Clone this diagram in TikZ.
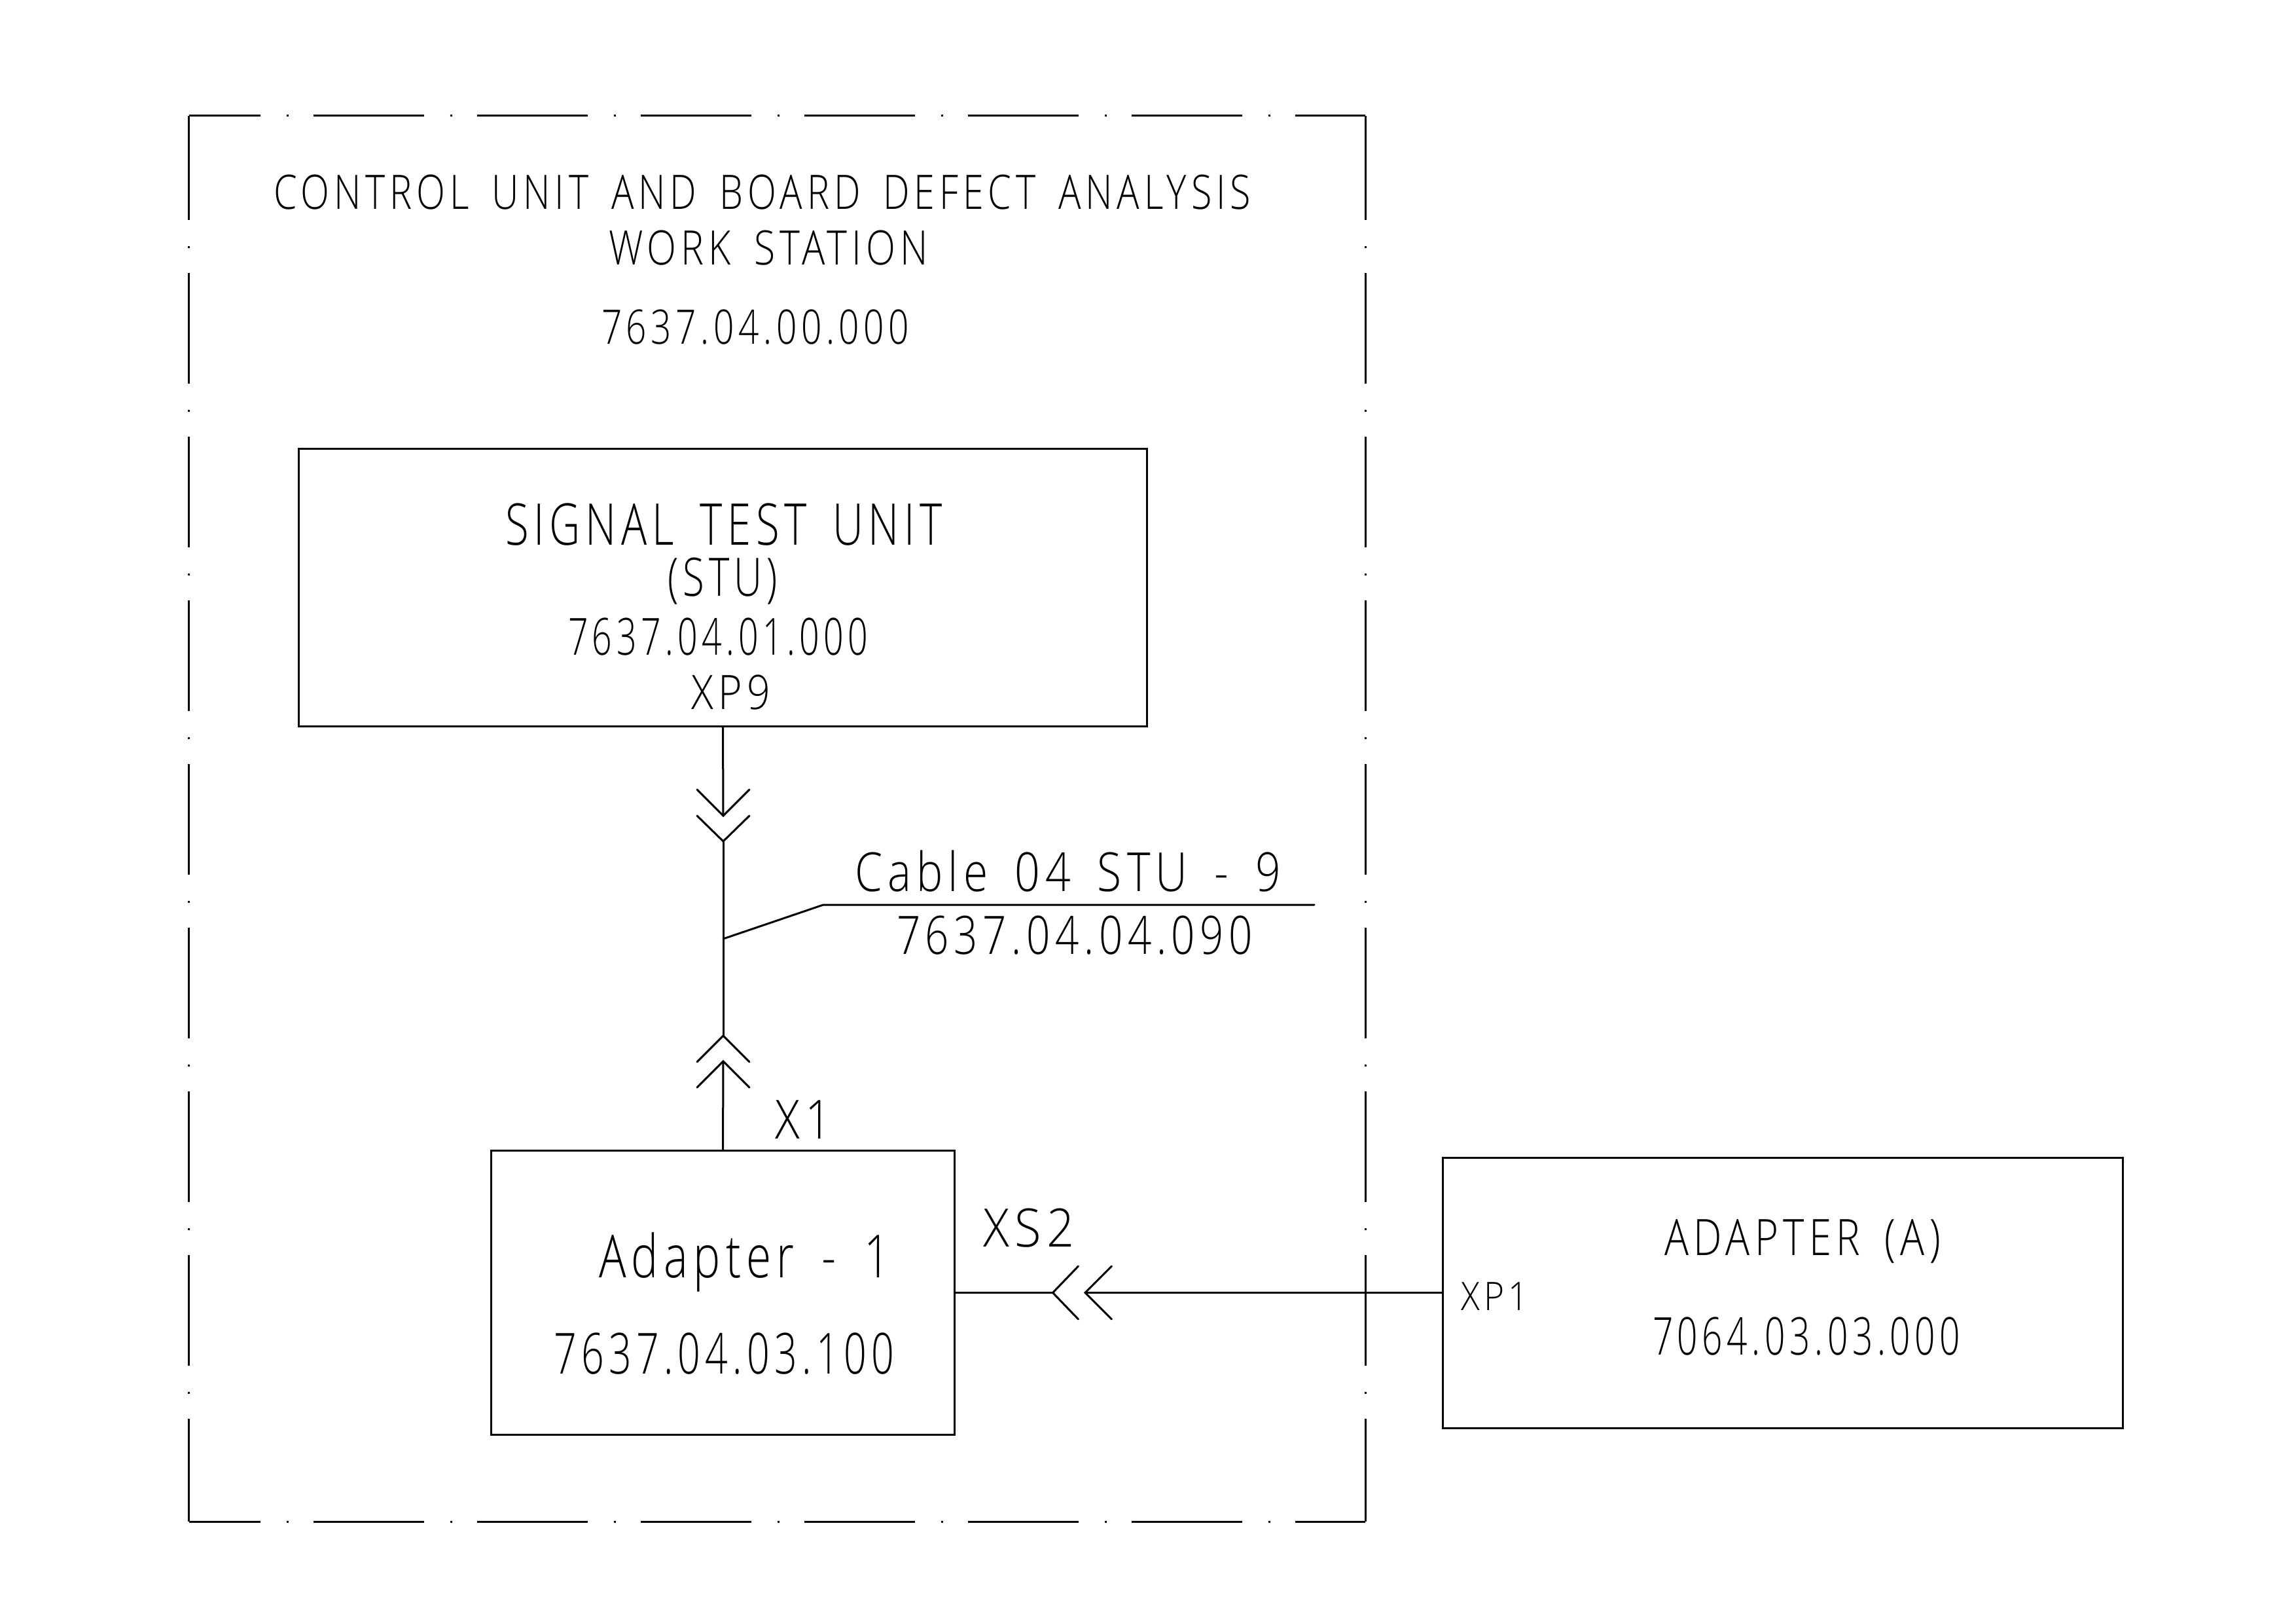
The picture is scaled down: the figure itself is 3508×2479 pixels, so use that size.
\documentclass[tikz,border=0pt]{standalone}
\usepackage{fontspec}
\usepackage{graphicx}
\setmainfont{Open Sans Light}[LetterSpace=12,WordSpace=1.6]
\newdimen\pxunit
\pxunit=0.2mm
\tikzset{
  x=0.2mm, y=-0.2mm,
  wire/.style={line width=0.6mm, line cap=round, line join=miter, black},
  frameline/.style={line width=0.6mm, black, dash pattern=on 33.8mm off 8mm on 0.6mm off 7.6mm},
  topside/.style={frameline, dash phase=12mm},
  sideside/.style={frameline, dash phase=2mm},
  blockbox/.style={draw=black, line width=0.6mm, inner sep=0pt, outer sep=0pt, fill=none, rectangle},
  lbl/.style={inner sep=0pt, outer sep=0pt, anchor=base west, text=black}
}
% name, x, baseline, width, cap height (all in reference pixels), text
\newcommand{\lblnode}[6]{%
  \pgfmathsetmacro\fsz{#5*0.5669/0.714}%
  \node[lbl] (#1) at (#2,#3) {\fontsize{\fsz pt}{\fsz pt}\selectfont\resizebox{#4\pxunit}{\height}{#6}};%
}
\begin{document}
\begin{tikzpicture}
\useasboundingbox (0,0) rectangle (3508,2479);
% frame
\coordinate (tl) at (288.5,177);
\coordinate (tr) at (2086,177);
\coordinate (bl) at (288.5,2324);
\coordinate (br) at (2086,2324);
\draw[topside] (tl) -- (tr);
\draw[topside] (bl) -- (br);
\draw[sideside] (tl) -- (bl);
\draw[sideside] (tr) -- (br);
% blocks
\node[blockbox, minimum width=259.1mm, minimum height=84.8mm] (stu) at (1104.5,897.5) {};
\node[blockbox, minimum width=141.5mm, minimum height=86.8mm] (adone) at (1104.5,1974.5) {};
\node[blockbox, minimum width=207.8mm, minimum height=82.6mm] (ada) at (2723.5,1974.5) {};
% vertical connector
\coordinate (t1) at (1105,1246);
\coordinate (t2) at (1105,1285);
\coordinate (t3) at (1105,1582);
\coordinate (t4) at (1105,1621);
\draw[wire] (stu.south) -- (t1);
\draw[wire] (t2) -- (t3);
\draw[wire] (t4) -- (adone.north);
\draw[wire] (1065,1206) -- (t1) -- (1145,1206);
\draw[wire] (1065,1246) -- (t2) -- (1145,1246);
\draw[wire] (1065,1622) -- (t3) -- (1145,1622);
\draw[wire] (1065,1661) -- (t4) -- (1145,1661);
% horizontal connector
\coordinate (h1) at (1608.5,1974.5);
\coordinate (h2) at (1658,1974.5);
\draw[wire] (adone.east) -- (h1);
\draw[wire] (h2) -- (ada.west);
\draw[wire] (1647.5,1934) -- (h1) -- (1647.5,2015);
\draw[wire] (1698.5,1934) -- (h2) -- (1698.5,2015);
% leader
\coordinate (l0) at (1105,1434);
\coordinate (l1) at (1258,1382);
\coordinate (l2) at (2008,1382);
\draw[wire] (l0) -- (l1) -- (l2);
% texts
\lblnode{t01}{418}{320}{1493}{52}{CONTROL UNIT AND BOARD DEFECT ANALYSIS}
\lblnode{t02}{930}{405}{488}{52}{WORK STATION}
\lblnode{t03}{919}{526}{470}{52}{7637.04.00.000}
\lblnode{t04}{772}{832}{668}{63}{SIGNAL TEST UNIT}
\lblnode{t05}{1020}{910}{168}{58}{(STU)}
\lblnode{t06}{868}{1000}{458}{56}{7637.04.01.000}
\lblnode{t07}{1056}{1083}{121}{52}{XP9}
\lblnode{t08}{1306}{1361}{651}{59}{Cable 04 STU - 9}
\lblnode{t09}{1370}{1457}{544}{58}{7637.04.04.090}
\lblnode{t10}{1184}{1739}{86}{59}{X1}
\lblnode{t11}{915}{1951}{445}{65}{Adapter - 1}
\lblnode{t12}{846}{2098}{520}{62}{7637.04.03.100}
\lblnode{t13}{1502}{1904}{140}{58}{XS2}
\lblnode{t14}{2232}{2001}{103}{43}{XP1}
\lblnode{t15}{2543}{1917}{422}{55}{ADAPTER (A)}
\lblnode{t16}{2525}{2069}{470}{57}{7064.03.03.000}
\end{tikzpicture}
\end{document}
